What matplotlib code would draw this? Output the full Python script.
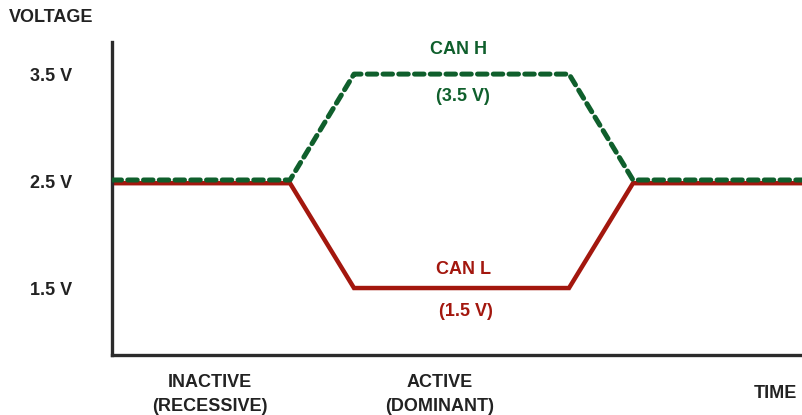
import numpy as np
import matplotlib.pyplot as plt

plt.rcParams['font.family'] = ['Liberation Sans', 'DejaVu Sans']
plt.rcParams['font.weight'] = 'bold'

# time points (arbitrary units) and bus voltages
t = [0, 178, 242, 457, 521, 690]
can_h = [2.51, 2.51, 3.5, 3.5, 2.51, 2.51]
can_l = [2.48, 2.48, 1.5, 1.5, 2.48, 2.48]

volt_ticks = [1.5, 2.5, 3.5]
volt_labels = ['1.5 V', '2.5 V', '3.5 V']
phase_pos = [98, 328]
phase_labels = ['INACTIVE\n(RECESSIVE)', 'ACTIVE\n(DOMINANT)']

green = '#0f5f2c'
red = '#a3170e'
dark = '#222222'
fs = 13

fig = plt.figure(figsize=(8.02, 4.15), dpi=100)
ax = fig.add_axes([112/802, 60/415, 690/802, 313/415])

ax.plot(t, can_l, color=red, lw=3.2, solid_joinstyle='miter', zorder=2)
ax.plot(t, can_h, color=green, lw=3.6, linestyle=(0, (1.9, 1.25)),
        dash_capstyle='round', zorder=3)

ax.set_xlim(0, 690)
ax.set_ylim(0.874, 3.80)

for s in ['top', 'right']:
    ax.spines[s].set_visible(False)
for s in ['left', 'bottom']:
    ax.spines[s].set_linewidth(2.4)
    ax.spines[s].set_color('#2b2b2b')

ax.set_yticks(volt_ticks)
ax.set_yticklabels(volt_labels, fontsize=fs, fontweight='bold', color=dark)
ax.tick_params(axis='y', length=0, pad=29)
ax.set_xticks(phase_pos)
ax.set_xticklabels(phase_labels, fontsize=fs, fontweight='bold', color=dark,
                   linespacing=1.5)
ax.tick_params(axis='x', length=0, pad=14)

ax.text(347, 3.73, 'CAN H', ha='center', va='center', color=green,
        fontsize=fs, fontweight='bold')
ax.text(351, 3.29, '(3.5 V)', ha='center', va='center', color=green,
        fontsize=fs, fontweight='bold')
ax.text(352, 1.67, 'CAN L', ha='center', va='center', color=red,
        fontsize=fs, fontweight='bold')
ax.text(354, 1.28, '(1.5 V)', ha='center', va='center', color=red,
        fontsize=fs, fontweight='bold')

fig.text(797/802, 1 - 393/415, 'TIME', ha='right', va='center', color=dark,
         fontsize=fs, fontweight='bold')
fig.text(9/802, 1 - 18/415, 'VOLTAGE', ha='left', va='center', color=dark,
         fontsize=fs, fontweight='bold')

fig.savefig('out.png', dpi=100)
